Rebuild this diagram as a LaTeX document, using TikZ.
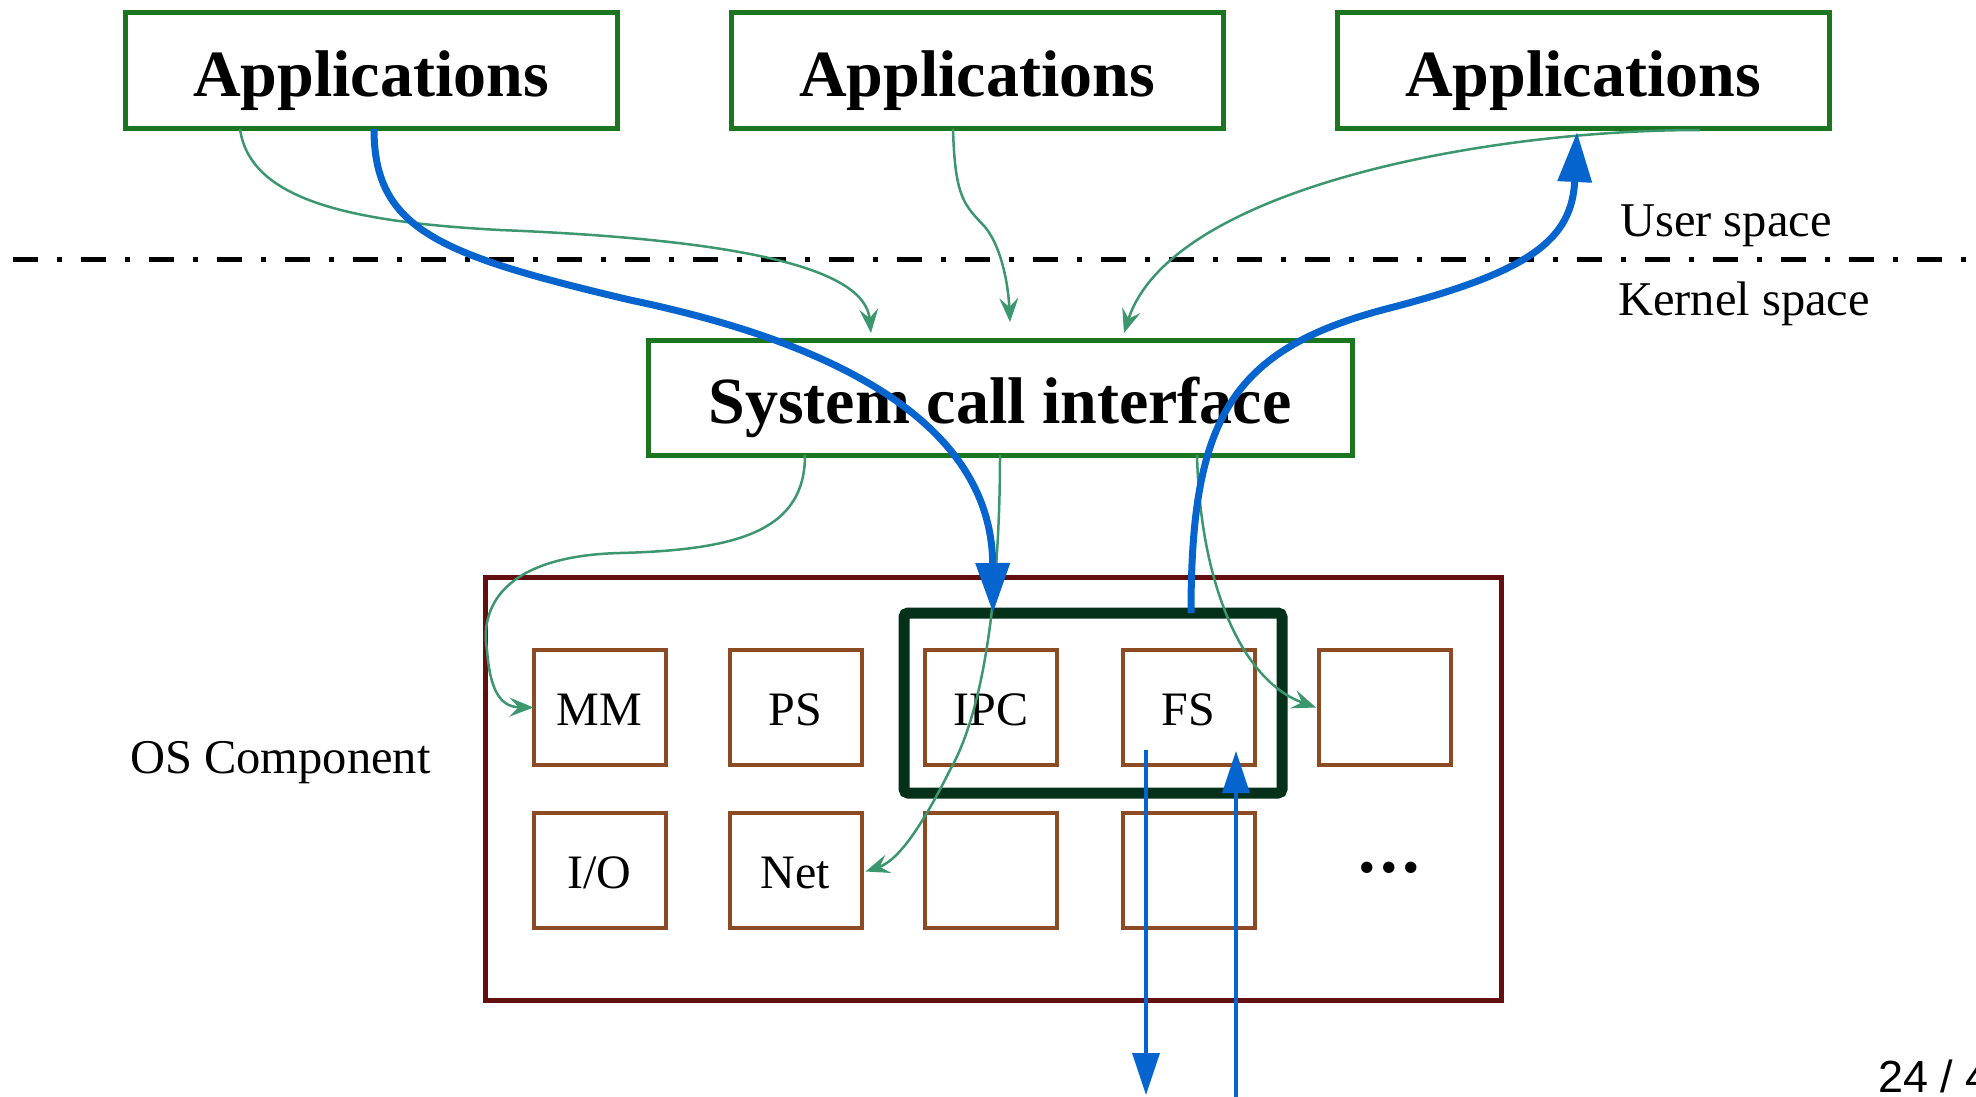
\documentclass[tikz,border=0pt]{standalone}
\usepackage{fontspec}
\setmainfont{Liberation Serif}
\newfontfamily\pagefont{Liberation Sans}
\usetikzlibrary{arrows.meta,calc}

\definecolor{boxgreen}{RGB}{28,118,32}
\definecolor{compbrown}{RGB}{140,75,35}
\definecolor{osred}{RGB}{100,15,15}
\definecolor{hlgreen}{RGB}{5,48,25}
\definecolor{callblue}{RGB}{5,100,205}
\definecolor{flowgreen}{RGB}{60,150,110}

\begin{document}
\begin{tikzpicture}[x=1pt,y=-1pt,
  bigbox/.style={draw=boxgreen, line width=5pt, inner sep=0pt, outer sep=0pt,
    font=\fontsize{66}{70}\selectfont\bfseries, text height=52pt, text depth=0pt},
  appbox/.style={bigbox, minimum width=492pt, minimum height=116pt},
  compbox/.style={draw=compbrown, line width=4pt, inner sep=0pt, outer sep=0pt,
    minimum width=132pt, minimum height=115pt,
    font=\fontsize{48}{50}\selectfont, text height=36pt, text depth=0pt},
  sidetext/.style={font=\fontsize{48.5}{50}\selectfont, anchor=base west, inner sep=0pt},
  flow/.style={draw=flowgreen, line width=2.5pt, -{Stealth[length=24pt,width=19pt,inset=9pt]}},
  call/.style={draw=callblue, line width=7pt, -{Triangle[length=50pt,width=33pt]}},
  iocall/.style={draw=callblue, line width=3.5pt, -{Triangle[length=42pt,width=27pt]}},
  sepline/.style={line width=5pt, dash pattern=on 25pt off 19pt on 5pt off 19pt}
]
\useasboundingbox (0,0) rectangle (1976,1097);

% user / kernel separator
\coordinate (sepL) at (13,259);
\coordinate (sepR) at (1976,259);
\draw[sepline] (sepL) -- (sepR);
\node[sidetext] (user) at (1620,236) {User space};
\node[sidetext] (kernel) at (1618,315) {Kernel space};

% applications and the system call layer
\node[appbox] (app1) at (371,71) {Applications};
\node[appbox] (app2) at (977,71) {Applications};
\node[appbox] (app3) at (1583,71) {Applications};
\node[bigbox, minimum width=704pt, minimum height=115pt] (sci) at (1000,397.5) {System call interface};

% kernel components
\node[draw=osred, line width=5pt, minimum width=1016pt, minimum height=423pt,
      inner sep=0pt, outer sep=0pt] (os) at (993,788.5) {};
\node[sidetext] (oslabel) at (130,773) {OS Component};

\node[compbox] (mm)  at (599.5,707.5)  {MM};
\node[compbox] (ps)  at (795.5,707.5)  {PS};
\node[compbox] (ipc) at (991,707.5)    {IPC};
\node[compbox] (fs)  at (1188.5,707.5) {FS};
\node[compbox] (c5)  at (1385,707.5)   {};
\node[compbox] (io)  at (599.5,870.5)  {I/O};
\node[compbox] (net) at (795.5,870.5)  {Net};
\node[compbox] (c8)  at (991,870.5)    {};
\node[compbox] (c9)  at (1188.5,870.5) {};
\node[font=\fontsize{70}{72}\selectfont\bfseries, anchor=base, inner sep=0pt] (more)
  at (1389,872) {.\kern4.5pt.\kern4.5pt.};

% highlighted pair IPC / FS
\node[draw=hlgreen, line width=11pt, rounded corners=4pt, inner sep=0pt, outer sep=0pt,
      minimum width=378pt, minimum height=180pt] (hl) at (1093,703) {};

% ordinary call paths
\draw[flow] ($(app1.south west)+(115,0)$) .. controls (250,200) and (350,222) .. (500,230)
  .. controls (750,240) and (865,270) .. ($(sci.north west)+(223,-7)$);
\draw[flow] ($(app2.south west)+(222,0)$) .. controls (955,200) and (965,205) .. (985,227)
  .. controls (1000,245) and (1008,280) .. ($(sci.north west)+(362,-18)$);
\draw[flow] ($(app3.south west)+(363,1)$) .. controls (1480,130) and (1170,190)
  .. ($(sci.north west)+(476,-7)$);
\draw[flow] ($(sci.south west)+(157,0)$) .. controls (805,530) and (740,550) .. (620,553)
  .. controls (500,556) and (480,610) .. (487,650)
  .. controls (490,690) and (500,707) .. (mm.west);
\draw[flow] ($(sci.south west)+(352,0)$) .. controls (1000,560) and (990,700) .. (950,770)
  .. controls (925,820) and (900,860) .. ($(net.east)+(4,1)$);
\draw[flow] ($(sci.south west)+(549,0)$) .. controls (1200,580) and (1240,680)
  .. ($(c5.west)+(-3,0)$);

% highlighted round trip
\draw[call] ($(app1.south west)+(249,0)$) .. controls (374,230) and (440,255) .. (630,300)
  .. controls (870,350) and (992,440) .. ($(hl.north west)+(89,0)$);
\draw[call] ($(hl.north west)+(287,0)$) .. controls (1191,420) and (1230,350) .. (1386,309)
  .. controls (1530,272) and (1572,240) .. ($(app3.south west)+(240,3)$);

% file system traffic to and from below
\coordinate (fsout) at (1146,750);
\coordinate (fsoutend) at (1146,1095);
\coordinate (fsinstart) at (1236,1100);
\coordinate (fsin) at (1236,751);
\draw[iocall] (fsout) -- (fsoutend);
\draw[iocall] (fsinstart) -- (fsin);

\node[font=\pagefont\fontsize{45}{48}\selectfont, anchor=base west, inner sep=0pt] (pageno)
  at (1878,1092) {24 / 4};
\end{tikzpicture}
\end{document}
